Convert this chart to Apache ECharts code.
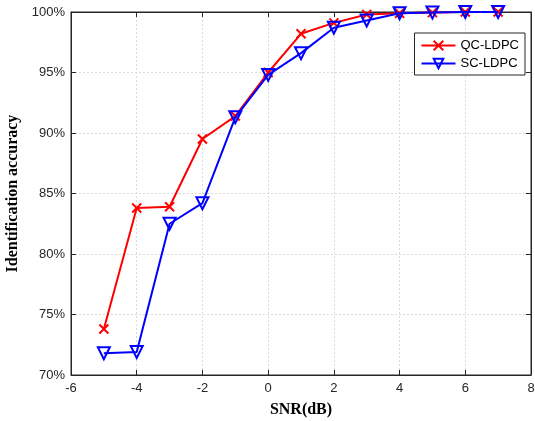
<!DOCTYPE html>
<html><head><meta charset="utf-8">
<script src="https://cdn.jsdelivr.net/npm/echarts@6/dist/echarts.min.js"></script>
<style>html,body{margin:0;padding:0;background:#fff}#c{width:535px;height:421px}</style>
</head><body><div id="c"></div>
<script>
const snr = [-5,-4,-3,-2,-1,0,1,2,3,4,5,6,7];
const qcLdpc = [73.8,83.8,83.9,89.5,91.4,95.0,98.2,99.1,99.8,99.9,99.95,100,100];
const scLdpc = [71.8,71.9,82.5,84.2,91.3,94.8,96.6,98.7,99.3,99.9,99.95,100,100];
const xTicks = [-6,-4,-2,0,2,4,6,8];
const yTicks = [70,75,80,85,90,95,100];

const chart = echarts.init(document.getElementById('c'));
const gridLine = {show:true, lineStyle:{color:'#dadada', type:[2,2], width:1}};
const tickIn = {show:true, inside:true, length:5, lineStyle:{color:'#262626'}};
const axisLineS = {show:true, onZero:false, lineStyle:{color:'#262626', width:1}};
chart.setOption({
  animation:false,
  grid:{left:71, right:4, top:12, bottom:46, show:true, borderColor:'#262626', borderWidth:1,
        containLabel:false, outerBoundsMode:'none'},
  legend:{
    right:10, top:33, orient:'vertical',
    backgroundColor:'#fff', borderColor:'#262626', borderWidth:1, borderRadius:0,
    padding:[6,6,5,6], itemGap:5, itemWidth:34, itemHeight:12,
    textStyle:{fontFamily:'Liberation Sans, Arial', fontSize:13, color:'#000'},
    data:['QC-LDPC','SC-LDPC']
  },
  xAxis:[{
    type:'value', min:-6, max:8, interval:2,
    name:'SNR(dB)', nameLocation:'middle', nameGap:27,
    nameTextStyle:{fontFamily:'Liberation Serif, Times New Roman', fontWeight:'bold', fontSize:16, color:'#000'},
    axisLine:axisLineS, axisTick:tickIn, splitLine:gridLine,
    axisLabel:{fontFamily:'Liberation Sans, Arial', fontSize:13, color:'#262626', margin:7,
      formatter:v=>xTicks.includes(v)?String(v):''}
  },{
    type:'value', position:'top', min:-6, max:8, interval:2,
    axisLine:axisLineS, axisTick:tickIn, axisLabel:{show:false}, splitLine:{show:false}
  }],
  yAxis:[{
    type:'value', min:70, max:100, interval:5,
    name:'Identification accuracy', nameLocation:'middle', nameGap:44,
    nameTextStyle:{fontFamily:'Liberation Serif, Times New Roman', fontWeight:'bold', fontSize:16, color:'#000'},
    axisLine:axisLineS, axisTick:tickIn, splitLine:gridLine,
    axisLabel:{fontFamily:'Liberation Sans, Arial', fontSize:13, color:'#262626', margin:6,
      formatter:v=>yTicks.includes(v)?v+'%':''}
  },{
    type:'value', position:'right', min:70, max:100, interval:5,
    axisLine:axisLineS, axisTick:tickIn, axisLabel:{show:false}, splitLine:{show:false}
  }],
  series:[{
    name:'QC-LDPC', type:'line',
    data:snr.map((x,i)=>[x,qcLdpc[i]]),
    lineStyle:{color:'#ff0000', width:2},
    symbol:'path://M0,0L10,10M10,0L0,10', symbolSize:9, showAllSymbol:true,
    itemStyle:{color:'#ff0000', borderColor:'#ff0000', borderWidth:2},
    z:3
  },{
    name:'SC-LDPC', type:'line',
    data:snr.map((x,i)=>[x,scLdpc[i]]),
    lineStyle:{color:'#0000ff', width:2},
    symbol:'triangle', symbolRotate:180, symbolSize:12, showAllSymbol:true,
    itemStyle:{color:'rgba(255,255,255,0)', borderColor:'#0000ff', borderWidth:2},
    z:4
  }]
});
</script></body></html>
